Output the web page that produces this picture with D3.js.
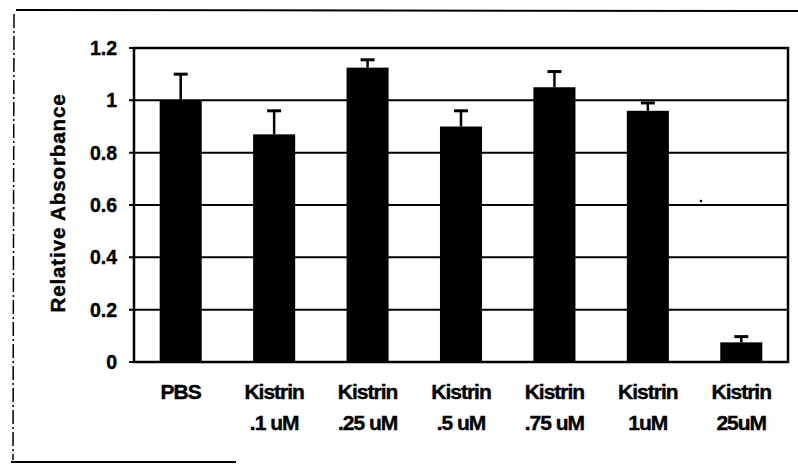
<!DOCTYPE html>
<html><head><meta charset="utf-8">
<script src="https://cdn.jsdelivr.net/npm/d3@7"></script>
<style>body{margin:0;background:#fff}svg{display:block}text{font-family:"Liberation Sans",Arial,sans-serif;font-weight:bold;fill:#000}</style>
</head><body>
<svg id="c" width="798" height="464"></svg>
<script>
const categories = [["PBS"],["Kistrin",".1 uM"],["Kistrin",".25 uM"],["Kistrin",".5 uM"],["Kistrin",".75 uM"],["Kistrin","1uM"],["Kistrin","25uM"]];
const values = [1.0, 0.87, 1.125, 0.9, 1.05, 0.96, 0.075];
const errors = [0.1, 0.09, 0.03, 0.06, 0.06, 0.03, 0.022];
const yTicks = [0, 0.2, 0.4, 0.6, 0.8, 1, 1.2];
const yTickLabels = ["0","0.2","0.4","0.6","0.8","1","1.2"];

const svg = d3.select("#c");
const m = {l:134, r:10, t:48, b:102};
const W = 798, H = 464;
const x = d3.scaleBand().domain(d3.range(categories.length)).range([m.l, W-m.r]).paddingInner(0.55).paddingOuter(0.275);
const y = d3.scaleLinear().domain([0,1.2]).range([H-m.b, m.t]);

// outer scanned frame
svg.append("line").attr("x1",16).attr("x2",798).attr("y1",10).attr("y2",11).attr("stroke","#000").attr("stroke-width",2);
svg.append("line").attr("x1",14).attr("x2",13).attr("y1",14).attr("y2",460).attr("stroke","#000").attr("stroke-width",1.5).attr("stroke-dasharray","14,3,2,3");
svg.append("line").attr("x1",11).attr("x2",236).attr("y1",462).attr("y2",462).attr("stroke","#000").attr("stroke-width",2);

// gridlines + ticks
const g = svg.append("g");
g.selectAll("line.grid").data(yTicks).join("line")
  .attr("x1", m.l-5).attr("x2", W-m.r).attr("y1", d=>y(d)).attr("y2", d=>y(d))
  .attr("stroke","#000").attr("stroke-width",2);
// frame
g.append("rect").attr("x",m.l).attr("y",m.t).attr("width",W-m.r-m.l).attr("height",H-m.b-m.t)
  .attr("fill","none").attr("stroke","#000").attr("stroke-width",2.5);

// y tick labels
g.selectAll("text.yt").data(yTicks).join("text")
  .attr("x", m.l-17).attr("y", d=>y(d)).attr("dy","0.36em").attr("text-anchor","end")
  .attr("font-size",19.5).attr("stroke","#000").attr("stroke-width",0.4).text((d,i)=>yTickLabels[i]);

// y axis title
svg.append("text").attr("transform",`translate(65,${(m.t+H-m.b)/2-2}) rotate(-90)`)
  .attr("text-anchor","middle").attr("font-size",20.5).attr("letter-spacing","0.9")
  .attr("stroke","#000").attr("stroke-width",0.4).text("Relative Absorbance");

// error bars
const eb = svg.append("g");
values.forEach((v,i)=>{
  const cx = x(i)+x.bandwidth()/2;
  eb.append("line").attr("x1",cx).attr("x2",cx).attr("y1",y(v)).attr("y2",y(v+errors[i])).attr("stroke","#000").attr("stroke-width",2.5);
  eb.append("line").attr("x1",cx-7).attr("x2",cx+7).attr("y1",y(v+errors[i])).attr("y2",y(v+errors[i])).attr("stroke","#000").attr("stroke-width",3);
});

// bars
svg.append("g").selectAll("rect").data(values).join("rect")
  .attr("x",(d,i)=>x(i)).attr("width",x.bandwidth())
  .attr("y",d=>y(d)).attr("height",d=>y(0)-y(d)).attr("fill","#000");

// x labels
const xl = svg.append("g");
categories.forEach((c,i)=>{
  const cx = x(i)+x.bandwidth()/2;
  c.forEach((t,j)=>{
    xl.append("text").attr("x",cx).attr("y",399+j*31).attr("text-anchor","middle")
      .attr("font-size",21).attr("letter-spacing","-1").attr("stroke","#000").attr("stroke-width",0.4).text(t);
  });
});
// speck
svg.append("circle").attr("cx",701).attr("cy",201).attr("r",1.3).attr("fill","#000");
</script>
</body></html>
